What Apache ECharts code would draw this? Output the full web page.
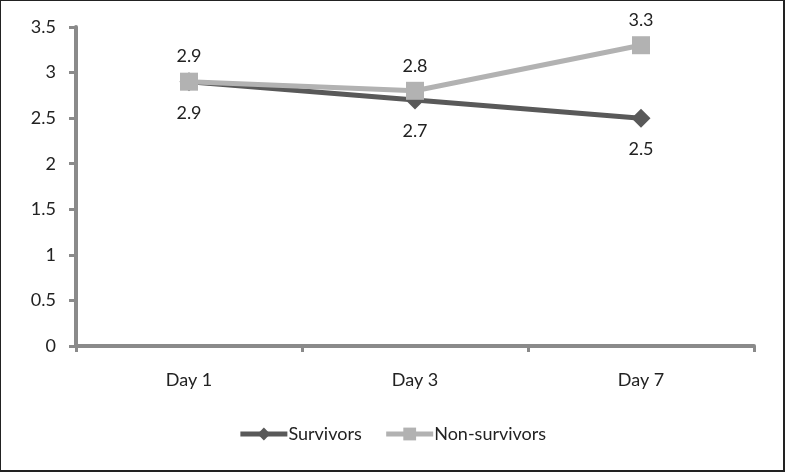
<!DOCTYPE html>
<html><head><meta charset="utf-8">
<script src="https://cdn.jsdelivr.net/npm/echarts@6/dist/echarts.min.js"></script>
<style>
html,body{margin:0;padding:0;background:#fff;}
#c{width:785px;height:472px;box-sizing:border-box;border:1px solid #222;border-right-width:2px;border-bottom-width:2px;}
</style></head><body>
<div id="c"></div>
<script>
const categories = ['Day 1', 'Day 3', 'Day 7'];
const survivors = [2.9, 2.7, 2.5];
const nonSurvivors = [2.9, 2.8, 3.3];
const yTicks = [0, 0.5, 1, 1.5, 2, 2.5, 3, 3.5];

const chart = echarts.init(document.getElementById('c'), null, {renderer: 'canvas'});
const font = 'Lato, "Open Sans", sans-serif';
const fs = 18;
chart.setOption({
  animation: false,
  textStyle: {fontFamily: font},
  grid: {left: 75, right: 29, top: 26, bottom: 124, containLabel: false},
  xAxis: {
    type: 'category', data: categories, boundaryGap: true,
    axisLine: {lineStyle: {color: '#8a8a8a', width: 4}},
    axisTick: {show: true, length: 6, lineStyle: {color: '#8a8a8a', width: 3}},
    axisLabel: {color: '#222', fontSize: fs, margin: 25, fontFamily: font}
  },
  yAxis: {
    type: 'value', min: 0, max: 3.5, interval: 0.5,
    axisLine: {show: true, lineStyle: {color: '#8a8a8a', width: 4}},
    axisTick: {show: true, length: 7, lineStyle: {color: '#8a8a8a', width: 3}},
    splitLine: {show: false},
    axisLabel: {color: '#222', fontSize: fs, margin: 20, fontFamily: font,
      formatter: v => (yTicks.indexOf(v) >= 0 ? String(v) : '')}
  },
  legend: {
    bottom: 22, left: 'center', itemWidth: 47, itemHeight: 16, itemGap: 22,
    textStyle: {color: '#222', fontSize: fs, fontFamily: font, padding: [0, 0, 0, -4]},
    data: [
      {name: 'Survivors', lineStyle: {width: 5}},
      {name: 'Non-survivors', lineStyle: {width: 5}}
    ]
  },
  series: [
    {
      name: 'Survivors', type: 'line', data: survivors, z: 2,
      symbol: 'diamond', symbolSize: 19,
      lineStyle: {color: '#595959', width: 5},
      itemStyle: {color: '#595959'},
      label: {show: true, position: 'bottom', distance: 13, color: '#222', fontSize: fs, fontFamily: font,
        formatter: p => p.value.toFixed(1)}
    },
    {
      name: 'Non-survivors', type: 'line', data: nonSurvivors, z: 3,
      symbol: 'rect', symbolSize: 18,
      lineStyle: {color: '#b2b2b2', width: 5},
      itemStyle: {color: '#b2b2b2'},
      label: {show: true, position: 'top', distance: 7, color: '#222', fontSize: fs, fontFamily: font,
        formatter: p => p.value.toFixed(1)}
    }
  ]
});
</script>
</body></html>
